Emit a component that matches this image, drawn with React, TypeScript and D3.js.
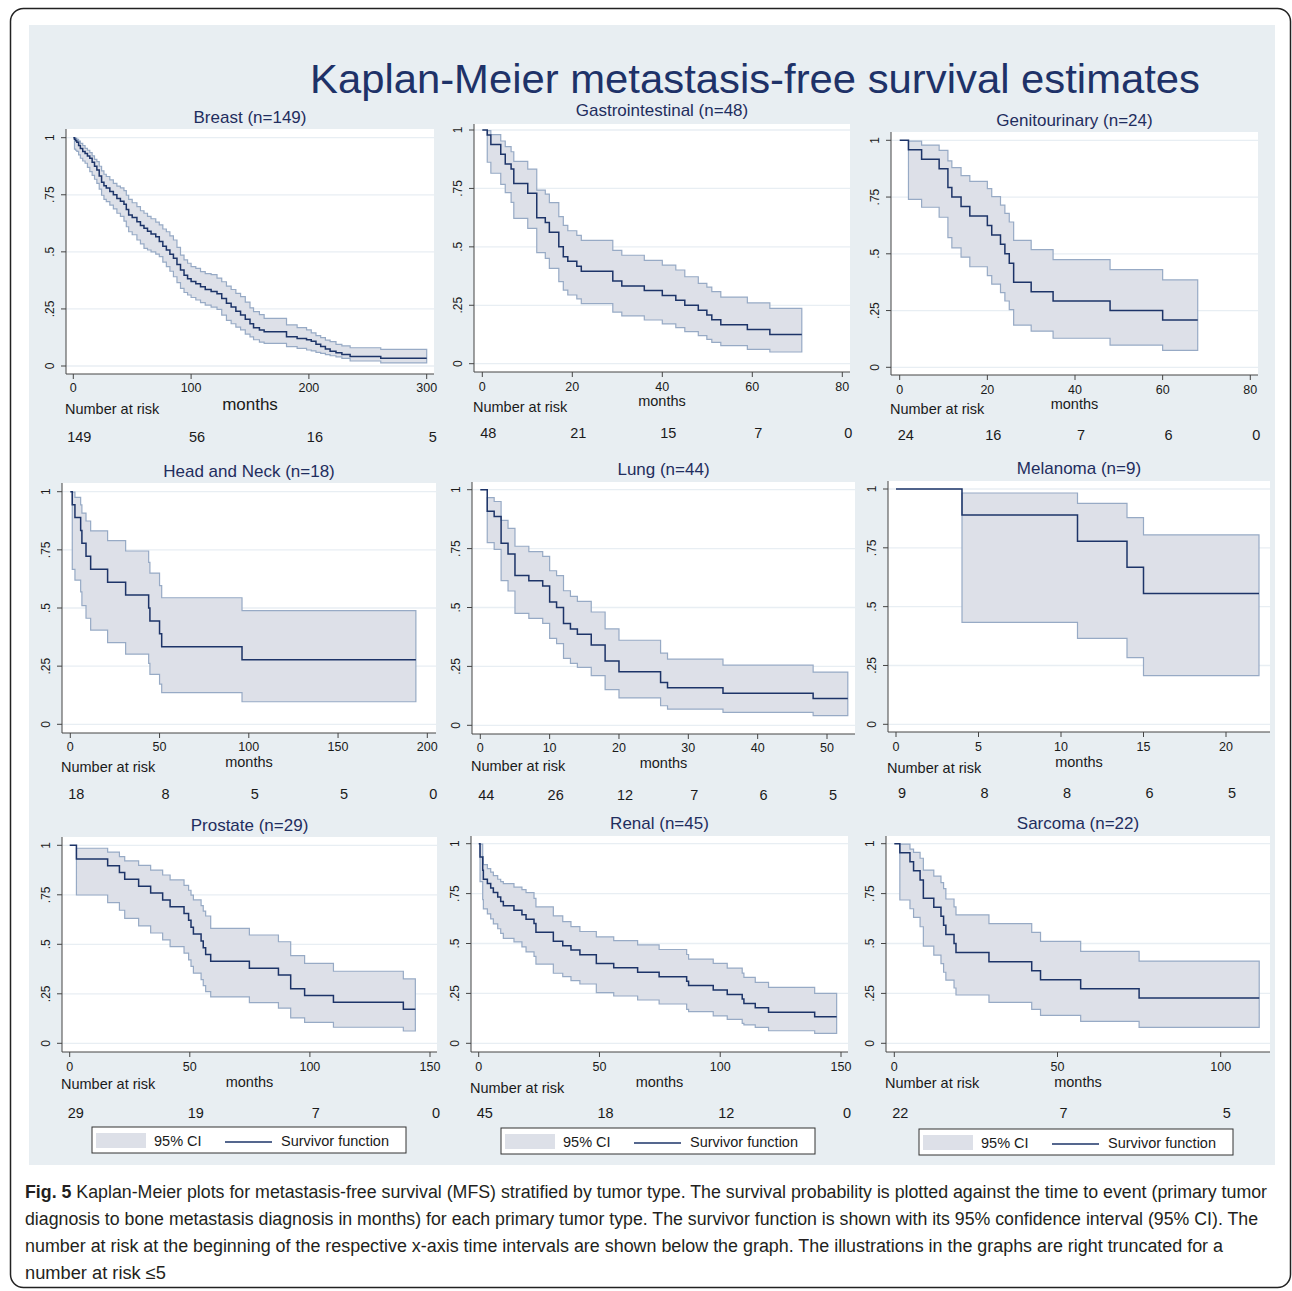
import React from 'react';
import * as d3 from 'd3';

// [time (months), survival, lower 95% CI, upper 95% CI]
type Row = [number, number, number | null, number | null];

const yTicks = [0, 0.25, 0.5, 0.75, 1];
const yTickLabels = ['0', '.25', '.5', '.75', '1'];

const breastTicks = [0, 100, 200, 300];
const breastRisk = [149, 56, 16, 5];
const breastSteps: Row[] = [
    [0, 1, null, null], [1, .993, .95, 1], [2, .987, .945, .997], [3, .98, .94, .993],
    [4.5, .966, .925, .985], [6, .953, .91, .975], [8, .94, .898, .965], [10, .931, .888, .953],
    [12, .92, .87, .945], [14, .91, .851, .935], [16, .893, .835, .92], [18, .875, .818, .905],
    [20, .858, .8, .895], [22, .832, .775, .875], [24, .805, .748, .855], [26, .79, .73, .84],
    [28, .78, .72, .83], [31, .764, .705, .815], [34, .75, .688, .8], [37, .734, .669, .788],
    [40, .722, .655, .78], [43, .708, .635, .768], [45, .685, .61, .748], [47, .661, .588, .73],
    [50, .65, .575, .715], [54, .632, .552, .698], [57, .615, .535, .68], [60, .603, .515, .669],
    [63, .59, .508, .655], [66, .578, .5, .645], [70, .566, .49, .63], [73, .545, .479, .618],
    [76, .525, .455, .6], [79, .508, .435, .588], [82, .49, .415, .57], [85, .472, .391, .552],
    [88, .445, .365, .52], [91, .42, .34, .486], [94, .398, .322, .465], [97, .382, .311, .45],
    [100, .37, .3, .435], [104, .36, .289, .428], [108, .347, .278, .413], [112, .335, .267, .405],
    [117, .326, .258, .4], [122, .316, .248, .385], [126, .296, .223, .369], [130, .275, .2, .35],
    [134, .258, .185, .335], [138, .24, .17, .318], [142, .223, .158, .304], [146, .205, .14, .28],
    [150, .185, .128, .255], [153, .168, .115, .238], [158, .158, .105, .225], [162, .15, .099, .209],
    [181, .128, .085, .18], [190, .121, .077, .168], [198, .115, .07, .158], [202, .108, .066, .145],
    [206, .095, .06, .133], [210, .085, .055, .124], [214, .075, .05, .113], [218, .065, .045, .107],
    [223, .058, .04, .095], [228, .05, .033, .088], [235, .042, .022, .08], [261, .034, .014, .073],
    [300, .034, .014, .073],
];

const giTicks = [0, 20, 40, 60, 80];
const giRisk = [48, 21, 15, 7, 0];
const giSteps: Row[] = [
    [0, 1, null, null], [1.1, .979, .862, .997], [1.9, .938, .815, .98], [4.1, .896, .767, .953],
    [5.1, .854, .732, .929], [6.4, .833, .69, .907], [7, .771, .622, .866], [10.1, .729, .579, .833],
    [12.1, .625, .475, .743], [14, .604, .451, .726], [14.9, .563, .408, .689], [17, .5, .351, .629],
    [18, .458, .315, .592], [19, .438, .294, .569], [21, .417, .277, .549], [22, .396, .257, .528],
    [29, .354, .221, .485], [31, .333, .205, .464], [36, .313, .187, .442], [40, .292, .17, .422],
    [43, .271, .154, .401], [45, .25, .137, .372], [48, .229, .12, .344], [49.9, .208, .104, .328],
    [51, .188, .091, .308], [53, .167, .077, .285], [58.9, .146, .061, .26], [63.9, .125, .05, .237],
    [71, .125, .05, .237],
];

const guTicks = [0, 20, 40, 60, 80];
const guRisk = [24, 16, 7, 6, 0];
const guSteps: Row[] = [
    [0, 1, null, null], [2, .958, .74, .996], [5, .917, .705, .979], [9, .875, .661, .956],
    [11, .792, .571, .909], [11.9, .75, .526, .88], [14, .708, .485, .844], [16, .667, .443, .819],
    [20, .625, .404, .787], [21, .583, .366, .752], [23, .542, .329, .714], [24, .5, .292, .678],
    [25, .458, .254, .64], [26, .375, .186, .559], [30, .333, .159, .518], [35, .292, .128, .474],
    [48, .25, .098, .43], [60, .208, .075, .385], [68, .208, .075, .385],
];

const hnTicks = [0, 50, 100, 150, 200];
const hnRisk = [18, 8, 5, 5, 0];
const hnSteps: Row[] = [
    [0, 1, null, null], [1.1, .944, .666, .998], [2.6, .889, .62, .976], [5.8, .833, .569, .943],
    [6.5, .778, .51, .908], [8.8, .722, .456, .874], [11.4, .667, .405, .832], [20.9, .611, .351, .79],
    [31, .556, .302, .745], [43.9, .5, .262, .696], [44.6, .444, .215, .65], [50, .389, .173, .596],
    [51.2, .333, .136, .544], [96.2, .278, .097, .489], [193.6, .278, .097, .489],
];

const lungTicks = [0, 10, 20, 30, 40, 50];
const lungRisk = [44, 26, 12, 7, 6, 5];
const lungSteps: Row[] = [
    [0, 1, null, null], [1, .909, .775, .966], [2, .886, .747, .95], [3, .773, .614, .87],
    [4, .727, .57, .836], [5, .636, .475, .76], [7, .614, .454, .737], [9, .591, .433, .717],
    [10, .523, .369, .656], [11, .5, .347, .635], [12, .432, .284, .571], [13, .409, .263, .547],
    [14, .386, .246, .526], [16, .341, .211, .481], [18, .273, .151, .409], [20, .227, .116, .361],
    [26, .182, .083, .306], [27, .159, .069, .281], [35, .136, .055, .255], [48, .114, .041, .226],
    [53, .114, .041, .226],
];

const melTicks = [0, 5, 10, 15, 20];
const melRisk = [9, 8, 8, 6, 5];
const melSteps: Row[] = [
    [0, 1, null, null], [4, .889, .433, .983], [11, .778, .365, .939], [14, .667, .283, .878],
    [15, .556, .207, .805], [22, .556, .207, .805],
];

const prosTicks = [0, 50, 100, 150];
const prosRisk = [29, 19, 7, 0];
const prosSteps: Row[] = [
    [0, 1, null, null], [2.8, .931, .749, .985], [15.8, .897, .71, .966], [20.7, .862, .672, .943],
    [22.9, .828, .631, .921], [28.7, .793, .593, .899], [33.7, .759, .557, .875], [38.7, .724, .522, .85],
    [41.8, .69, .488, .825], [47.6, .655, .455, .798], [49.5, .621, .421, .773], [50.5, .586, .389, .748],
    [51.5, .552, .354, .724], [54.7, .517, .322, .695], [55.6, .483, .291, .668], [56.6, .448, .261, .643],
    [58.7, .414, .234, .58], [74.8, .379, .205, .547], [86.9, .345, .178, .513], [92, .276, .128, .443],
    [97.8, .241, .106, .404], [109.8, .207, .081, .364], [138.9, .172, .062, .325], [143.9, .172, .062, .325],
];

const renalTicks = [0, 50, 100, 150];
const renalRisk = [45, 18, 12, 0];
const renalSteps: Row[] = [
    [0, 1, null, null], [0.55, .933, .81, .998], [1.66, .867, .72, .935], [1.93, .822, .673, .895],
    [3.59, .8, .648, .875], [4.97, .778, .623, .858], [6.07, .756, .598, .84], [7.87, .733, .574, .822],
    [9.11, .711, .551, .81], [10.2, .689, .526, .8], [14.6, .667, .508, .782], [17.9, .644, .483, .77],
    [19.6, .622, .458, .755], [22.9, .6, .435, .726], [23.7, .556, .397, .683], [30.9, .511, .351, .638],
    [34.8, .489, .334, .61], [38.2, .467, .314, .585], [41.9, .444, .297, .56], [48.7, .4, .254, .533],
    [55.9, .378, .237, .514], [65.8, .356, .217, .493], [74.7, .333, .197, .47], [86.1, .311, .17, .445],
    [86.9, .289, .159, .422], [97.1, .267, .137, .4], [102.9, .244, .12, .377], [109.1, .222, .1, .352],
    [109.8, .2, .092, .33], [114.5, .178, .08, .305], [120, .156, .063, .28], [139.1, .133, .05, .25],
    [148.2, .133, .05, .25],
];

const sarcTicks = [0, 50, 100];
const sarcRisk = [22, 7, 5];
const sarcSteps: Row[] = [
    [0, 1, null, null], [1.7, .955, .718, .998], [4.8, .909, .674, .973], [5.9, .864, .631, .957],
    [7.9, .818, .584, .927], [8.9, .727, .487, .868], [12.1, .682, .442, .838], [14.3, .636, .399, .805],
    [15.1, .591, .356, .775], [15.8, .545, .317, .723], [18.3, .5, .277, .683], [18.9, .455, .242, .643],
    [29, .409, .205, .6], [42.1, .364, .17, .556], [44.8, .318, .14, .511], [57.1, .273, .11, .461],
    [75, .227, .08, .412], [111.8, .227, .08, .412],
];

const captionLines = [
    'Kaplan-Meier plots for metastasis-free survival (MFS) stratified by tumor type. The survival probability is plotted against the time to event (primary tumor',
    'diagnosis to bone metastasis diagnosis in months) for each primary tumor type. The survivor function is shown with its 95% confidence interval (95% CI). The',
    'number at risk at the beginning of the respective x-axis time intervals are shown below the graph. The illustrations in the graphs are right truncated for a',
    'number at risk \u22645',
];

const FONT = '"Liberation Sans", Arial, Helvetica, sans-serif';
const NAVY = '#1f2d5e';
const CURVE = '#1d3468';
const BAND_FILL = '#dde0e8';
const BAND_EDGE = '#97aac5';
const AXIS = '#444';
const TEXT = '#1a1a1a';

interface Box { l: number; t: number; r: number; b: number }
interface PanelSpec {
    title: string;
    rows: Row[];
    ticks: number[];
    risk: number[];
    box: Box;
    xr: [number, number];
    yr: [number, number];
    titleY: number;
    tickY: number;
    narY: number;
    monthsY: number;
    monthsSize: number;
    numY: number;
    legendAt?: [number, number];
}

const panels: PanelSpec[] = [
    { title: 'Breast (n=149)', rows: breastSteps, ticks: breastTicks, risk: breastRisk,
      box: { l: 66, t: 129, r: 434, b: 374 }, xr: [73.3, 426.7], yr: [366, 137.7],
      titleY: 117, tickY: 387, narY: 409, monthsY: 404, monthsSize: 17, numY: 437 },
    { title: 'Gastrointestinal (n=48)', rows: giSteps, ticks: giTicks, risk: giRisk,
      box: { l: 474, t: 124, r: 850, b: 372 }, xr: [482.3, 842.3], yr: [363.7, 130],
      titleY: 110, tickY: 386, narY: 407, monthsY: 401, monthsSize: 14.5, numY: 433 },
    { title: 'Genitourinary (n=24)', rows: guSteps, ticks: guTicks, risk: guRisk,
      box: { l: 891, t: 132, r: 1258, b: 375 }, xr: [899.7, 1250.3], yr: [367.3, 140.3],
      titleY: 120, tickY: 389, narY: 409, monthsY: 404, monthsSize: 14.5, numY: 435 },
    { title: 'Head and Neck (n=18)', rows: hnSteps, ticks: hnTicks, risk: hnRisk,
      box: { l: 62, t: 483, r: 436, b: 733 }, xr: [70.3, 427.3], yr: [724.3, 491.7],
      titleY: 471, tickY: 746, narY: 767, monthsY: 762, monthsSize: 14.5, numY: 794 },
    { title: 'Lung (n=44)', rows: lungSteps, ticks: lungTicks, risk: lungRisk,
      box: { l: 472, t: 482, r: 855, b: 734 }, xr: [480.3, 827], yr: [725.3, 489.7],
      titleY: 469, tickY: 747, narY: 766, monthsY: 763, monthsSize: 14.5, numY: 795 },
    { title: 'Melanoma (n=9)', rows: melSteps, ticks: melTicks, risk: melRisk,
      box: { l: 888, t: 481, r: 1270, b: 732 }, xr: [896, 1226], yr: [724.3, 489],
      titleY: 468, tickY: 746, narY: 768, monthsY: 762, monthsSize: 14.5, numY: 793 },
    { title: 'Prostate (n=29)', rows: prosSteps, ticks: prosTicks, risk: prosRisk,
      box: { l: 62, t: 837, r: 437, b: 1052 }, xr: [69.7, 430], yr: [1043.3, 845.3],
      titleY: 825, tickY: 1066, narY: 1084, monthsY: 1082, monthsSize: 14.5, numY: 1113, legendAt: [92, 1127] },
    { title: 'Renal (n=45)', rows: renalSteps, ticks: renalTicks, risk: renalRisk,
      box: { l: 471, t: 836, r: 848, b: 1052 }, xr: [478.7, 841], yr: [1043.3, 843.7],
      titleY: 823, tickY: 1066, narY: 1088, monthsY: 1082, monthsSize: 14.5, numY: 1113, legendAt: [501, 1128] },
    { title: 'Sarcoma (n=22)', rows: sarcSteps, ticks: sarcTicks, risk: sarcRisk,
      box: { l: 886, t: 836, r: 1270, b: 1052 }, xr: [894.3, 1220.7], yr: [1043.3, 843.7],
      titleY: 823, tickY: 1066, narY: 1083, monthsY: 1082, monthsSize: 14.5, numY: 1113, legendAt: [919, 1129] },
];

const Legend: React.FC<{ at: [number, number] }> = ({ at }) => {
    const [lx, ly] = at;
    return (
        <g fontFamily={FONT} fontSize={14.5} fill={TEXT}>
            <rect x={lx} y={ly} width={314} height={26} fill="#fff" stroke="#333" strokeWidth={1} />
            <rect x={lx + 4} y={ly + 6} width={50} height={15} fill={BAND_FILL} />
            <text x={lx + 62} y={ly + 18.5}>95% CI</text>
            <line x1={lx + 133} x2={lx + 180} y1={ly + 15} y2={ly + 15} stroke={CURVE} strokeWidth={1.3} />
            <text x={lx + 189} y={ly + 18.5}>Survivor function</text>
        </g>
    );
};

const Panel: React.FC<{ spec: PanelSpec }> = ({ spec }) => {
    const { box } = spec;
    const x = d3.scaleLinear().domain([0, spec.ticks[spec.ticks.length - 1]]).range(spec.xr);
    const y = d3.scaleLinear().domain([0, 1]).range(spec.yr);

    const band = d3.area<Row>()
        .defined(d => d[2] !== null)
        .x(d => x(d[0]))
        .y0(d => y(d[2] as number))
        .y1(d => y(d[3] as number))
        .curve(d3.curveStepAfter);
    const surv = d3.line<Row>()
        .x(d => x(d[0]))
        .y(d => y(d[1]))
        .curve(d3.curveStepAfter);

    const cx = (box.l + box.r) / 2;

    return (
        <g>
            <rect x={box.l} y={box.t} width={box.r - box.l} height={box.b - box.t} fill="#fff" />
            {yTicks.map(v => (
                <line key={'g' + v} x1={box.l} x2={box.r} y1={y(v)} y2={y(v)} stroke="#e8eef3" strokeWidth={1.3} />
            ))}
            <path d={band(spec.rows) || ''} fill={BAND_FILL} stroke={BAND_EDGE} strokeWidth={1.2} />
            <path d={surv(spec.rows) || ''} fill="none" stroke={CURVE} strokeWidth={1.5} />

            {/* axes */}
            <line x1={box.l} x2={box.l} y1={box.t} y2={box.b} stroke={AXIS} strokeWidth={1} />
            <line x1={box.l} x2={box.r} y1={box.b} y2={box.b} stroke={AXIS} strokeWidth={1} />
            {yTicks.map((v, i) => (
                <g key={'y' + v}>
                    <line x1={box.l - 5} x2={box.l} y1={y(v)} y2={y(v)} stroke={AXIS} strokeWidth={1} />
                    <text transform={`translate(${box.l - 12},${y(v)}) rotate(-90)`} textAnchor="middle"
                        fontFamily={FONT} fontSize={12} fill={TEXT}>{yTickLabels[i]}</text>
                </g>
            ))}
            {spec.ticks.map(t => (
                <g key={'x' + t}>
                    <line x1={x(t)} x2={x(t)} y1={box.b} y2={box.b + 5} stroke={AXIS} strokeWidth={1} />
                    <text x={x(t)} y={spec.tickY + 4.5} textAnchor="middle" fontFamily={FONT} fontSize={12.5} fill={TEXT}>{t}</text>
                </g>
            ))}

            {/* labels */}
            <text x={cx} y={spec.titleY + 6} textAnchor="middle" fontFamily={FONT} fontSize={17} fill={NAVY}>{spec.title}</text>
            <text x={box.l - 1} y={spec.narY + 5} fontFamily={FONT} fontSize={14.5} fill={TEXT}>Number at risk</text>
            <text x={cx} y={spec.monthsY + spec.monthsSize * 0.35} textAnchor="middle" fontFamily={FONT} fontSize={spec.monthsSize} fill={TEXT}>months</text>
            {spec.risk.map((n, i) => (
                <text key={'r' + i} x={x(spec.ticks[i]) + 6} y={spec.numY + 5} textAnchor="middle"
                    fontFamily={FONT} fontSize={14.5} fill={TEXT}>{n}</text>
            ))}
            {spec.legendAt && <Legend at={spec.legendAt} />}
        </g>
    );
};

const App: React.FC = () => {
    const lineWidths = [1242, 1233, 1198, 141];
    return (
        <svg width={1292} height={1291} style={{ position: 'absolute', left: 0, top: 0 }}>
            <rect x={0} y={0} width={1292} height={1291} fill="#fff" />
            <rect x={10.5} y={8.5} width={1280} height={1279} rx={13} fill="none" stroke="#222" strokeWidth={1.5} />
            <rect x={29} y={25} width={1246} height={1140} fill="#e8eef2" />
            <text x={310} y={93} fontFamily={FONT} fontSize={41} fill="#1e3268" textLength={890} lengthAdjust="spacingAndGlyphs">
                Kaplan-Meier metastasis-free survival estimates
            </text>
            {panels.map(p => <Panel key={p.title} spec={p} />)}
            {captionLines.map((line, i) => (
                <text key={i} x={25} y={1198 + i * 27} fontFamily={FONT} fontSize={18} fill="#231f20"
                    textLength={lineWidths[i]} lengthAdjust="spacingAndGlyphs">
                    {i === 0 && <tspan fontWeight="bold">Fig. 5 </tspan>}
                    {line}
                </text>
            ))}
        </svg>
    );
};

export default App;
